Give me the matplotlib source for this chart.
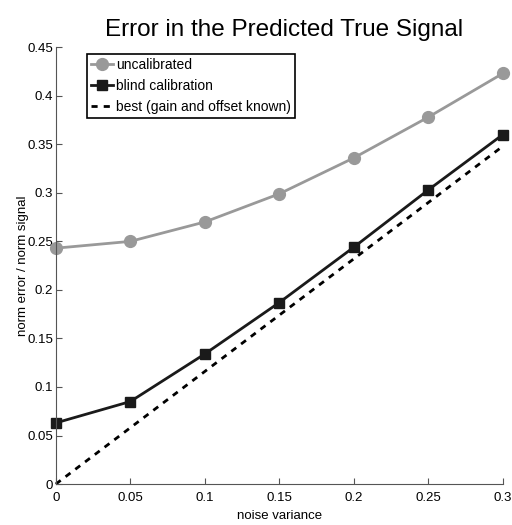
import matplotlib
matplotlib.use("Agg")
import matplotlib.pyplot as plt

plt.rcParams["font.family"] = ["Liberation Sans", "DejaVu Sans"]

noise = [0, 0.05, 0.1, 0.15, 0.2, 0.25, 0.3]
uncal = [0.243, 0.250, 0.270, 0.299, 0.336, 0.378, 0.423]
blind = [0.063, 0.085, 0.134, 0.187, 0.244, 0.303, 0.360]
best = [0.0, 0.058, 0.116, 0.174, 0.232, 0.290, 0.348]

fig = plt.figure(figsize=(5.12, 5.25), dpi=100)
ax = fig.add_axes([0.109, 0.078, 0.873, 0.832])

ax.plot(noise, uncal, "-o", color="#999999", lw=2, ms=8.5, label="uncalibrated")
ax.plot(noise, blind, "-s", color="#1a1a1a", lw=2, ms=7, label="blind calibration")
ax.plot(noise, best, "--", color="black", lw=2, dashes=(2.2, 2.2), label="best (gain and offset known)")

ax.set_xlim(0, 0.3)
ax.set_ylim(0, 0.45)
ax.set_xticks(noise)
ax.set_xticklabels(["0", "0.05", "0.1", "0.15", "0.2", "0.25", "0.3"])
ax.set_yticks([0, 0.05, 0.1, 0.15, 0.2, 0.25, 0.3, 0.35, 0.4, 0.45])
ax.set_yticklabels(["0", "0.05", "0.1", "0.15", "0.2", "0.25", "0.3", "0.35", "0.4", "0.45"])
ax.tick_params(direction="in", length=4, labelsize=9.5, color="#555555")
ax.tick_params(axis="x", pad=6)
ax.tick_params(axis="y", pad=2)
for s in ["top", "right"]:
    ax.spines[s].set_visible(False)
for s in ["left", "bottom"]:
    ax.spines[s].set_color("#555555")
for ln in ax.lines:
    ln.set_clip_on(False)

ax.set_xlabel("noise variance", fontsize=9.5, labelpad=4)
ax.set_ylabel("norm error / norm signal", fontsize=9.5, labelpad=-1)
ax.set_title("Error in the Predicted True Signal", fontsize=17.5, pad=8, x=0.51)

leg = ax.legend(loc="upper left", bbox_to_anchor=(0.07, 0.985), fontsize=10,
                handlelength=1.6, handletextpad=0.2, borderpad=0.3,
                labelspacing=0.5, fancybox=False, framealpha=1, borderaxespad=0)
leg.get_frame().set_edgecolor("black")
leg.get_frame().set_linewidth(1.2)

fig.savefig("out.png", dpi=100)
